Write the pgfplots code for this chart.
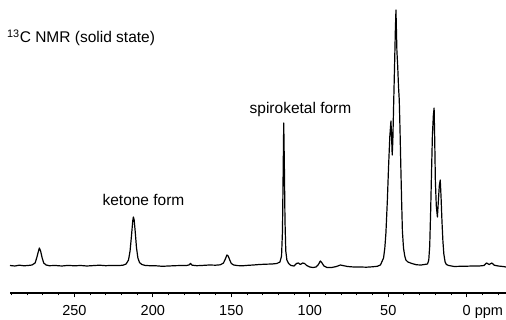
\documentclass[border=0pt]{standalone}
\usepackage{fontspec}
\setmainfont{Liberation Sans}
\usepackage{pgfplots}
\pgfplotsset{compat=1.18}
\begin{document}
\begin{tikzpicture}[x=1pt,y=1pt]
\useasboundingbox (0,0) rectangle (506,320);
\begin{axis}[
  at={(10pt,27pt)}, anchor=south west,
  scale only axis, width=496pt, height=293pt,
  x dir=reverse, xmin=-25, xmax=291, ymin=-27, ymax=266,
  axis x line=bottom, axis y line=none,
  axis line style={line width=1.4pt,-},
  xtick={250,200,150,100,50,0},
  xticklabels={250,200,150,100,50,{0\rlap{\ ppm}}},
  minor xtick={290,280,270,260,240,230,220,210,190,180,170,160,140,130,120,110,90,80,70,60,40,30,20,10,-10,-20},
  tick align=outside,
  major tick length=4.5pt, minor tick length=2.5pt,
  tick style={line width=1pt,black},
  xticklabel style={font=\fontsize{14.5}{17}\selectfont, anchor=base, yshift=-18pt},
  /pgf/number format/assume math mode=true,
]
\addplot[black, line width=1.2pt, line join=round] coordinates {
(291,0.5) (288,0) (285,0.8) (282,0.2) (279,0.6) (277,1) (275,3) (274,8) (273,14) (272.3,18) (271.5,15) (270.5,8) (269.5,3) (268,1) (266,0.3)
(262,0.5) (258,0) (254,0.6) (250,0.2) (246,0.5) (242,0) (238,0.4) (234,0.8) (230,0.3) (226,0.6) (222,0.4) (219,0.8) (217,2)
(215.5,6) (214.5,15) (213.5,32) (212.8,45) (212.4,49) (211.9,46) (211.2,34) (210.4,18) (209.5,8) (208.5,3.5) (207,1.5) (205,0.6)
(202,0.3) (198,0.2) (194,-0.3) (190,0) (186,0.3) (182,0.5) (179,0.4) (177,1.0) (176,2.5) (175,0.8) (172,0.3) (168,0.6) (164,1.0)
(160,0.8) (157,1.2) (155,3) (153.8,7) (152.8,11) (152,10) (151,6) (150,2.5) (148.5,1) (146,0.4) (143,0.2) (140,0.6) (136,1.0)
(132,1.5) (128,1.8) (124,2) (121,2.5) (119,4) (118,10) (117.4,35) (117,90) (116.6,143) (116.2,100) (115.8,45) (115.3,15) (114.6,6)
(113.5,2.5) (112,0.5) (110,0) (108.5,2.5) (107.3,3) (106,1.5) (104.5,3) (103.3,2.5) (102,0.5) (100,-1) (98,-1.5) (96,-1)
(94.5,1.5) (93.3,5) (92.2,3) (91,0) (89,-1.5) (86,-1.5) (83,-0.5) (80.5,1) (79,0.5) (76,-0.5) (72,-1) (68,-1) (64,-1.2) (60,-0.8)
(57,-0.3) (55,1) (53,8) (52.2,18) (51.5,33) (50.6,65) (49.8,100) (49,130) (48.3,145) (47.9,130) (47.5,111) (47.1,125) (46.6,160)
(46,200) (45.5,235) (45.1,256) (44.8,235) (44.5,215) (44.0,200) (43.5,180) (43,166) (42.5,135) (42,99) (41.5,65) (41,35) (40.3,18)
(39.5,10) (38.8,6) (37.5,4) (35,2.5) (32,1.2) (29,1) (27,1.5) (25,2) (24.2,6) (23.6,20) (23,55) (22.5,90) (21.9,130) (21.3,150)
(20.8,158) (20.4,125) (20.0,85) (19.4,60) (18.7,49) (18.2,62) (17.5,80) (16.9,86) (16.4,70) (15.8,45) (15.2,25) (14.6,12) (13.8,4)
(13,1.5) (11.5,0.5) (8,-0.5) (4,-0.3) (0,-0.2) (-4,0) (-8,0) (-11,0.5) (-12.6,3) (-14.3,1.5) (-16,3) (-17.5,0.8) (-20,0) (-23,-0.5) (-25,-1)
};
\end{axis}
\node[anchor=base west, inner sep=0pt, font=\fontsize{15.5}{18}\selectfont] at (7,277) {\textsuperscript{13}C NMR (solid state)};
\node[anchor=base, inner sep=0pt, font=\fontsize{15.5}{18}\selectfont] at (143.5,114) {ketone form};
\node[anchor=base, inner sep=0pt, font=\fontsize{15.5}{18}\selectfont] at (300.5,206) {spiroketal form};
\end{tikzpicture}
\end{document}
